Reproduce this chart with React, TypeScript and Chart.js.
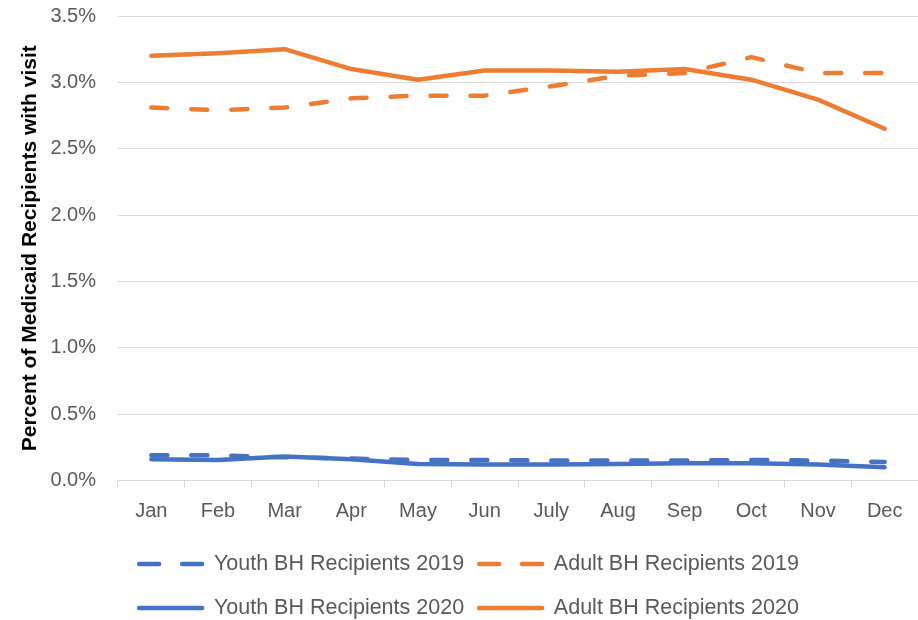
import React, { useEffect, useRef } from "react";
import { Chart, registerables } from "chart.js";

Chart.register(...registerables);

const months = ["Jan", "Feb", "Mar", "Apr", "May", "Jun", "July", "Aug", "Sep", "Oct", "Nov", "Dec"];
const youth2019 = [0.19, 0.19, 0.175, 0.165, 0.155, 0.155, 0.15, 0.15, 0.15, 0.155, 0.15, 0.14];
const adult2019 = [2.81, 2.79, 2.81, 2.88, 2.9, 2.9, 2.97, 3.05, 3.07, 3.19, 3.07, 3.07];
const youth2020 = [0.16, 0.155, 0.18, 0.16, 0.125, 0.12, 0.12, 0.125, 0.13, 0.13, 0.12, 0.1];
const adult2020 = [3.2, 3.22, 3.25, 3.1, 3.02, 3.09, 3.09, 3.08, 3.1, 3.02, 2.87, 2.65];
const yTicks = [0, 0.5, 1.0, 1.5, 2.0, 2.5, 3.0, 3.5];

const BLUE = "#4472C4";
const ORANGE = "#ED7D31";
const GRAY = "#595959";
const GRID = "#D9D9D9";
const FONT = "'Liberation Sans', Arial, sans-serif";
const DASH = [16, 24];
const LEGEND_DASH = [20, 23];

const legendLines = {
  id: "legendLines",
  afterDraw(chart: any) {
    const lg = chart.legend;
    if (!lg || !lg.legendItems) return;
    const ctx = chart.ctx;
    lg.legendItems.forEach((it: any, i: number) => {
      const hb = lg.legendHitBoxes[i];
      if (!hb) return;
      const ds = chart.data.datasets[it.datasetIndex];
      const y = hb.top + hb.height / 2;
      ctx.save();
      ctx.strokeStyle = ds.borderColor;
      ctx.lineWidth = 4.5;
      ctx.lineCap = "round";
      ctx.setLineDash(ds.borderDash && ds.borderDash.length ? LEGEND_DASH : []);
      ctx.beginPath();
      ctx.moveTo(hb.left + 8, y);
      ctx.lineTo(hb.left + 71, y);
      ctx.stroke();
      ctx.restore();
    });
  },
};

export default function App() {
  const ref = useRef<HTMLCanvasElement | null>(null);

  useEffect(() => {
    if (!ref.current) return;
    const mk = (label: string, data: number[], color: string, dashed: boolean) => ({
      label,
      data,
      borderColor: color,
      backgroundColor: color,
      borderWidth: 4.5,
      borderDash: dashed ? DASH : [],
      borderCapStyle: "round" as const,
      borderJoinStyle: "round" as const,
      pointRadius: 0,
      pointHoverRadius: 0,
      tension: 0,
      fill: false,
    });
    const baseGen = (Chart as any).defaults.plugins.legend.labels.generateLabels;
    const chart = new Chart(ref.current, {
      type: "line",
      plugins: [legendLines],
      data: {
        labels: months,
        datasets: [
          mk("Youth BH Recipients 2019", youth2019, BLUE, true),
          mk("Adult BH Recipients 2019", adult2019, ORANGE, true),
          mk("Youth BH Recipients 2020", youth2020, BLUE, false),
          mk("Adult BH Recipients 2020", adult2020, ORANGE, false),
        ],
      },
      options: {
        animation: false,
        responsive: false,
        maintainAspectRatio: false,
        layout: { padding: { top: 16, right: 0, left: 12, bottom: -16.5 } },
        plugins: {
          tooltip: { enabled: false },
          legend: {
            position: "bottom",
            labels: {
              usePointStyle: false,
              boxWidth: 72,
              boxHeight: 37,
              color: GRAY,
              font: { family: FONT, size: 21.5 },
              padding: 7,
              generateLabels: (c: any) => {
                const items = baseGen(c);
                items.forEach((it: any) => {
                  it.fillStyle = "rgba(0,0,0,0)";
                  it.strokeStyle = "rgba(0,0,0,0)";
                  it.lineWidth = 0;
                });
                return items;
              },
            },
          },
        },
        scales: {
          x: {
            offset: true,
            grid: {
              offset: true,
              drawOnChartArea: false,
              drawTicks: true,
              tickLength: 7,
              color: GRID,
            },
            border: { color: GRID, width: 1 },
            ticks: {
              color: GRAY,
              font: { family: FONT, size: 20 },
              padding: 12,
              maxRotation: 0,
              autoSkip: false,
            },
            afterFit: (scale: any) => {
              scale.height += 3;
            },
          },
          y: {
            min: 0,
            max: 3.5,
            afterBuildTicks: (scale: any) => {
              scale.ticks = yTicks.map((v) => ({ value: v }));
            },
            afterFit: (scale: any) => {
              scale.width = 106;
              scale.paddingTop = 0;
              scale.paddingBottom = 0;
            },
            grid: { color: GRID, drawTicks: false, lineWidth: 1 },
            border: { display: false },
            ticks: {
              color: GRAY,
              font: { family: FONT, size: 20 },
              padding: 22,
              callback: (v: any) => Number(v).toFixed(1) + "%",
            },
            title: {
              display: true,
              text: "Percent of Medicaid Recipients with visit",
              color: "#000000",
              font: { family: FONT, size: 21, weight: "bold" },
              padding: { top: 6, bottom: 0 },
            },
          },
        },
      },
    });
    return () => chart.destroy();
  }, []);

  return (
    <div style={{ position: "fixed", left: 0, top: 0, width: 918, height: 620, background: "#fff" }}>
      <canvas ref={ref} width={918} height={620} style={{ width: 918, height: 620 }} />
    </div>
  );
}
